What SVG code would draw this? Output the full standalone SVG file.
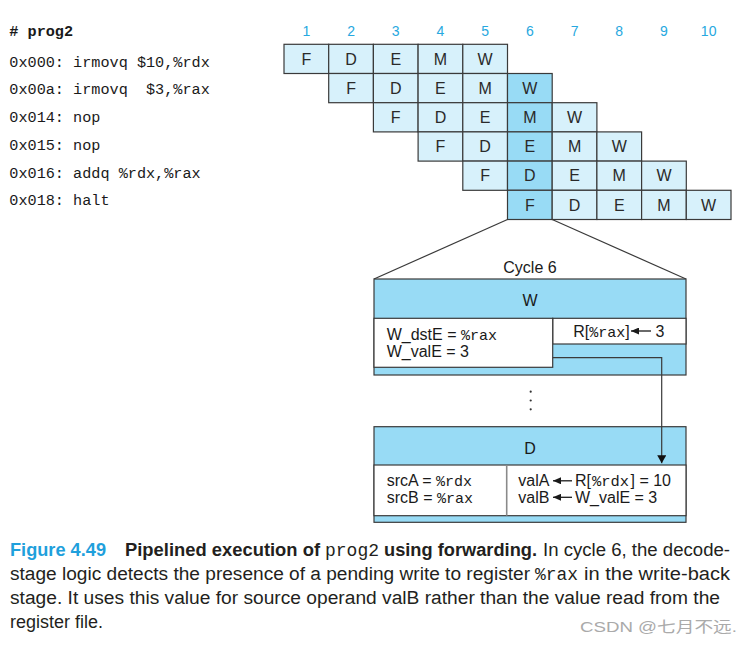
<svg xmlns="http://www.w3.org/2000/svg" width="746" height="646" viewBox="0 0 746 646">
<style>
.lt{fill:#d7f1fb;stroke:#3a3a3a;stroke-width:1.2}
.dk{fill:#98dbf5;stroke:#3a3a3a;stroke-width:1.2}
.wh{fill:#ffffff;stroke:#3a3a3a;stroke-width:1.2}
.cl{font-family:"Liberation Sans",Arial,sans-serif;font-size:16px;fill:#2a2a2a;text-anchor:middle}
.hd{font-family:"Liberation Sans",Arial,sans-serif;font-size:14px;fill:#27a8e0;text-anchor:middle}
.code{font-family:"Liberation Mono","DejaVu Sans Mono",monospace;font-size:15.2px;fill:#1a1a1a}
.sn{font-family:"Liberation Sans",Arial,sans-serif;font-size:16px;fill:#1a1a1a}
.mn{font-family:"Liberation Mono","DejaVu Sans Mono",monospace;font-size:15px}
.cap{font-family:"Liberation Sans",Arial,sans-serif;font-size:18px;fill:#231f20}
.capm{font-family:"Liberation Mono","DejaVu Sans Mono",monospace;font-size:18px;fill:#231f20}
.b{font-weight:bold}
.ln{stroke:#3a3a3a;stroke-width:1.2;fill:none}
.ar{stroke:#1a1a1a;stroke-width:1.3;fill:none}
</style>
<defs>
<marker id="ah" markerWidth="8" markerHeight="9" refX="8" refY="4.5" orient="auto" markerUnits="userSpaceOnUse">
<path d="M0,0 L8,4.5 L0,9 Z" fill="#111"/>
</marker>
<marker id="lh" markerWidth="8" markerHeight="7" refX="8" refY="3.5" orient="auto" markerUnits="userSpaceOnUse">
<path d="M0,0 L8,3.5 L0,7 Z" fill="#1a1a1a"/>
</marker>
</defs>
<rect width="746" height="646" fill="#ffffff"/>

<g id="program">
<text class="code b" x="9.3" y="36" xml:space="preserve"># prog2</text>
<text class="code" x="9.3" y="66.5" xml:space="preserve">0x000: irmovq $10,%rdx</text>
<text class="code" x="9.3" y="94" xml:space="preserve">0x00a: irmovq  $3,%rax</text>
<text class="code" x="9.3" y="122" xml:space="preserve">0x014: nop</text>
<text class="code" x="9.3" y="150" xml:space="preserve">0x015: nop</text>
<text class="code" x="9.3" y="177.5" xml:space="preserve">0x016: addq %rdx,%rax</text>
<text class="code" x="9.3" y="205" xml:space="preserve">0x018: halt</text>
</g>

<g id="cycles">
<text class="hd" x="306.35" y="35.5">1</text>
<text class="hd" x="351.05" y="35.5">2</text>
<text class="hd" x="395.75" y="35.5">3</text>
<text class="hd" x="440.45" y="35.5">4</text>
<text class="hd" x="485.15" y="35.5">5</text>
<text class="hd" x="529.85" y="35.5">6</text>
<text class="hd" x="574.55" y="35.5">7</text>
<text class="hd" x="619.25" y="35.5">8</text>
<text class="hd" x="663.95" y="35.5">9</text>
<text class="hd" x="708.65" y="35.5">10</text>
</g>

<g id="row1">
<rect class="lt" x="284" y="44.3" width="44.7" height="29.2"/>
<rect class="lt" x="328.7" y="44.3" width="44.7" height="29.2"/>
<rect class="lt" x="373.4" y="44.3" width="44.7" height="29.2"/>
<rect class="lt" x="418.1" y="44.3" width="44.7" height="29.2"/>
<rect class="lt" x="462.8" y="44.3" width="44.7" height="29.2"/>
<text class="cl" x="306.35" y="64.6">F</text>
<text class="cl" x="351.05" y="64.6">D</text>
<text class="cl" x="395.75" y="64.6">E</text>
<text class="cl" x="440.45" y="64.6">M</text>
<text class="cl" x="485.15" y="64.6">W</text>
</g>
<g id="row2">
<rect class="lt" x="328.7" y="73.5" width="44.7" height="29.2"/>
<rect class="lt" x="373.4" y="73.5" width="44.7" height="29.2"/>
<rect class="lt" x="418.1" y="73.5" width="44.7" height="29.2"/>
<rect class="lt" x="462.8" y="73.5" width="44.7" height="29.2"/>
<rect class="dk" x="507.5" y="73.5" width="44.7" height="29.2"/>
<text class="cl" x="351.05" y="93.8">F</text>
<text class="cl" x="395.75" y="93.8">D</text>
<text class="cl" x="440.45" y="93.8">E</text>
<text class="cl" x="485.15" y="93.8">M</text>
<text class="cl" x="529.85" y="93.8">W</text>
</g>
<g id="row3">
<rect class="lt" x="373.4" y="102.7" width="44.7" height="29.2"/>
<rect class="lt" x="418.1" y="102.7" width="44.7" height="29.2"/>
<rect class="lt" x="462.8" y="102.7" width="44.7" height="29.2"/>
<rect class="dk" x="507.5" y="102.7" width="44.7" height="29.2"/>
<rect class="lt" x="552.2" y="102.7" width="44.7" height="29.2"/>
<text class="cl" x="395.75" y="123">F</text>
<text class="cl" x="440.45" y="123">D</text>
<text class="cl" x="485.15" y="123">E</text>
<text class="cl" x="529.85" y="123">M</text>
<text class="cl" x="574.55" y="123">W</text>
</g>
<g id="row4">
<rect class="lt" x="418.1" y="131.9" width="44.7" height="29.2"/>
<rect class="lt" x="462.8" y="131.9" width="44.7" height="29.2"/>
<rect class="dk" x="507.5" y="131.9" width="44.7" height="29.2"/>
<rect class="lt" x="552.2" y="131.9" width="44.7" height="29.2"/>
<rect class="lt" x="596.9" y="131.9" width="44.7" height="29.2"/>
<text class="cl" x="440.45" y="152.2">F</text>
<text class="cl" x="485.15" y="152.2">D</text>
<text class="cl" x="529.85" y="152.2">E</text>
<text class="cl" x="574.55" y="152.2">M</text>
<text class="cl" x="619.25" y="152.2">W</text>
</g>
<g id="row5">
<rect class="lt" x="462.8" y="161.1" width="44.7" height="29.2"/>
<rect class="dk" x="507.5" y="161.1" width="44.7" height="29.2"/>
<rect class="lt" x="552.2" y="161.1" width="44.7" height="29.2"/>
<rect class="lt" x="596.9" y="161.1" width="44.7" height="29.2"/>
<rect class="lt" x="641.6" y="161.1" width="44.7" height="29.2"/>
<text class="cl" x="485.15" y="181.4">F</text>
<text class="cl" x="529.85" y="181.4">D</text>
<text class="cl" x="574.55" y="181.4">E</text>
<text class="cl" x="619.25" y="181.4">M</text>
<text class="cl" x="663.95" y="181.4">W</text>
</g>
<g id="row6">
<rect class="dk" x="507.5" y="190.3" width="44.7" height="29.2"/>
<rect class="lt" x="552.2" y="190.3" width="44.7" height="29.2"/>
<rect class="lt" x="596.9" y="190.3" width="44.7" height="29.2"/>
<rect class="lt" x="641.6" y="190.3" width="44.7" height="29.2"/>
<rect class="lt" x="686.3" y="190.3" width="44.7" height="29.2"/>
<text class="cl" x="529.85" y="210.6">F</text>
<text class="cl" x="574.55" y="210.6">D</text>
<text class="cl" x="619.25" y="210.6">E</text>
<text class="cl" x="663.95" y="210.6">M</text>
<text class="cl" x="708.65" y="210.6">W</text>
</g>

<g id="zoom-lines">
<line class="ln" x1="507.5" y1="219.5" x2="374" y2="279"/>
<line class="ln" x1="552.2" y1="219.5" x2="686" y2="279"/>
</g>

<text class="sn" x="530" y="272.5" text-anchor="middle">Cycle 6</text>

<g id="W-stage">
<rect class="dk" x="374" y="279" width="312" height="96"/>
<text class="sn" x="530" y="305.5" text-anchor="middle">W</text>
<rect class="wh" x="552.7" y="318.3" width="133.3" height="25.7"/>
<rect class="wh" x="374" y="318.3" width="178.7" height="49"/>
<text class="sn" x="386.7" y="340">W_dstE = <tspan class="mn">%rax</tspan></text>
<text class="sn" x="386.7" y="357.3">W_valE = 3</text>
<text class="sn" x="573.3" y="336.5">R[<tspan class="mn" font-size="13.5px">%rax</tspan>]</text>
<line class="ar" x1="651" y1="331" x2="631" y2="331" marker-end="url(#lh)"/>
<text class="sn" x="655.5" y="336.5">3</text>
</g>

<g id="ellipsis" fill="#333">
<circle cx="530.7" cy="391.7" r="1.1"/>
<circle cx="530.7" cy="400.5" r="1.1"/>
<circle cx="530.7" cy="409.3" r="1.1"/>
</g>

<g id="D-stage">
<rect class="dk" x="374" y="426.7" width="312" height="95.6"/>
<text class="sn" x="530" y="453.5" text-anchor="middle">D</text>
<rect class="wh" x="374" y="465" width="312" height="50.7"/>
<line x1="506.7" y1="465" x2="506.7" y2="515.7" stroke="#8a8a8a" stroke-width="1.6"/>
<text class="sn" x="386.7" y="486">srcA = <tspan class="mn">%rdx</tspan></text>
<text class="sn" x="386.7" y="502.5">srcB = <tspan class="mn">%rax</tspan></text>
<text class="sn" x="518.3" y="486">valA</text>
<line class="ar" x1="572" y1="480.8" x2="553" y2="480.8" marker-end="url(#lh)"/>
<text class="sn" x="575" y="486">R[</text>
<text class="mn" x="592" y="486" fill="#1a1a1a" font-size="14px" textLength="37" lengthAdjust="spacingAndGlyphs">%rdx</text>
<text class="sn" x="630.5" y="486">] = 10</text>
<text class="sn" x="518.3" y="502.5">valB</text>
<line class="ar" x1="572" y1="497.3" x2="553" y2="497.3" marker-end="url(#lh)"/>
<text class="sn" x="575" y="502.5">W_valE = 3</text>
</g>

<g id="connectors">
<path class="ln" d="M552.7,357.7 H661.7 V463.3" stroke="#111" marker-end="url(#ah)"/>
</g>

<g id="caption">
<text class="cap b" x="10" y="555.5" style="fill:#1fa0dc" textLength="96" lengthAdjust="spacingAndGlyphs">Figure 4.49</text>
<text class="cap b" x="125" y="555.5" textLength="195" lengthAdjust="spacingAndGlyphs">Pipelined execution of</text>
<text class="capm" x="325" y="555.5" textLength="54" lengthAdjust="spacingAndGlyphs">prog2</text>
<text class="cap b" x="384" y="555.5" textLength="153" lengthAdjust="spacingAndGlyphs">using forwarding.</text>
<text class="cap" x="543" y="555.5" textLength="187" lengthAdjust="spacingAndGlyphs">In cycle 6, the decode-</text>
<text class="cap" x="10" y="579.5" textLength="520" lengthAdjust="spacingAndGlyphs">stage logic detects the presence of a pending write to register</text>
<text class="capm" x="535" y="579.5" textLength="43" lengthAdjust="spacingAndGlyphs">%rax</text>
<text class="cap" x="584" y="579.5" textLength="146" lengthAdjust="spacingAndGlyphs">in the write-back</text>
<text class="cap" x="10" y="603.5" textLength="710" lengthAdjust="spacingAndGlyphs">stage. It uses this value for source operand valB rather than the value read from the</text>
<text class="cap" x="10" y="627.5" textLength="93" lengthAdjust="spacingAndGlyphs">register file.</text>
</g>
<text x="580" y="632" font-family="'Liberation Sans','Noto Sans CJK SC',sans-serif" font-size="15" fill="#aaaaaa" textLength="157" lengthAdjust="spacingAndGlyphs">CSDN @七月不远.</text>
</svg>
